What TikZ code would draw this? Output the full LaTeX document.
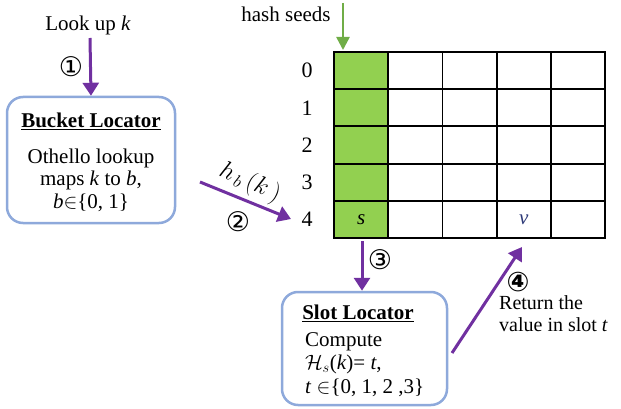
\documentclass[tikz,border=0pt]{standalone}
\usepackage{fontspec}
\setmainfont{Liberation Serif}
\newfontfamily\symfnt{DejaVu Sans}
\usetikzlibrary{arrows.meta}
\definecolor{arrpurple}{HTML}{7030A0}
\definecolor{boxblue}{HTML}{8EA9DB}
\definecolor{cellgreen}{HTML}{92D050}
\definecolor{arrgreen}{HTML}{70AD47}
\definecolor{vblue}{HTML}{2E3A78}
\tikzset{
  x=1pt, y=-1pt,
  txt/.style={inner sep=0pt, font=\fontsize{21}{24}\selectfont},
  circnum/.style={inner sep=0pt, font=\symfnt\fontsize{27}{27}\selectfont},
  locbox/.style={draw=boxblue, line width=2.5pt, rounded corners=16pt, inner sep=0pt},
  cell/.style={draw=black, line width=1.8pt, minimum width=54.2pt, minimum height=37.2pt, inner sep=0pt},
  parr/.style={draw=arrpurple, line width=3pt, -{Triangle[length=13pt,width=16pt]}},
  garr/.style={draw=arrgreen, line width=2.5pt, -{Triangle[length=13pt,width=13pt]}},
}
\begin{document}
\begin{tikzpicture}
\useasboundingbox (0,0) rectangle (621,409);
% grid
\foreach \r in {0,...,4}{
  \node[cell, fill=cellgreen] (c\r0) at ({334+54.2*0.5},{52+37.2*(\r+0.5)}) {};
  \foreach \c in {1,...,4}{
    \node[cell] (c\r\c) at ({334+54.2*(\c+0.5)},{52+37.2*(\r+0.5)}) {};
  }
  \node[txt, font=\fontsize{22}{24}\selectfont] (row\r) at (307,{52+37.2*(\r+0.5)}) {\r};
}
\node[txt] (s) at (c40) {\textit{s}};
\node[txt, text=vblue] (v) at (c43) {\textit{v}};
% hash seeds
\node[txt, font=\fontsize{21}{22}\selectfont] (seeds) at (286,14) {hash seeds};
\coordinate (gtop) at (343,3);
\coordinate (gbot) at (343,50);
\draw[garr] (gtop) -- (gbot);
% bucket locator
\node[locbox, minimum width=168pt, minimum height=126pt] (bucket) at (91,160) {};
\node[txt] (btitle) at (91,121) {\underline{\textbf{Bucket Locator}}};
\node[txt, align=center, font=\fontsize{21}{22.5}\selectfont] (btext) at (91,180) {Othello lookup\\maps \textit{k} to \textit{b},\\\textit{b}$\in$\{0, 1\}};
\node[txt] (lookup) at (88,25) {Look up \textit{k}};
\draw[parr] (90,38) coordinate (lstart) -- (bucket.north);
\node[circnum] (n1) at (71,67) {①};
% arrow 2
\coordinate (a2s) at (200,182);
\coordinate (a2e) at (291,219);
\draw[parr] (a2s) -- (a2e);
\node[inner sep=0pt, rotate=-24, font=\fontsize{23}{23}\selectfont] (hb) at (250,183) {$h_{\,b}\,(k\,)$};
\node[circnum] (n2) at (238,222) {②};
% slot locator
\node[locbox, minimum width=165pt, minimum height=113pt] (slot) at (364.5,348.5) {};
\node[txt] (stitle) at (358,313) {\underline{\textbf{Slot Locator}}};
\node[txt, align=left, anchor=north west, font=\fontsize{21}{23.5}\selectfont] (stext) at (305,332) {Compute\\$\mathcal{H}_s$(\textit{k})= \textit{t},\\\textit{t} $\in$\{0, 1, 2 ,3\}};
\coordinate (a3s) at (362,241);
\draw[parr] (a3s) -- (slot.north -| a3s);
\node[circnum] (n3) at (380,260) {③};
% arrow 4
\coordinate (a4s) at (452,353);
\coordinate (a4e) at (522,247);
\draw[parr] (a4s) -- (a4e);
\node[circnum, font=\symfnt\bfseries\fontsize{27}{27}\selectfont] (n4) at (518,282) {④};
\node[txt, align=left, anchor=north west, font=\fontsize{20}{22}\selectfont] (ret) at (499,295) {Return the\\value in slot \textit{t}};
\end{tikzpicture}
\end{document}
